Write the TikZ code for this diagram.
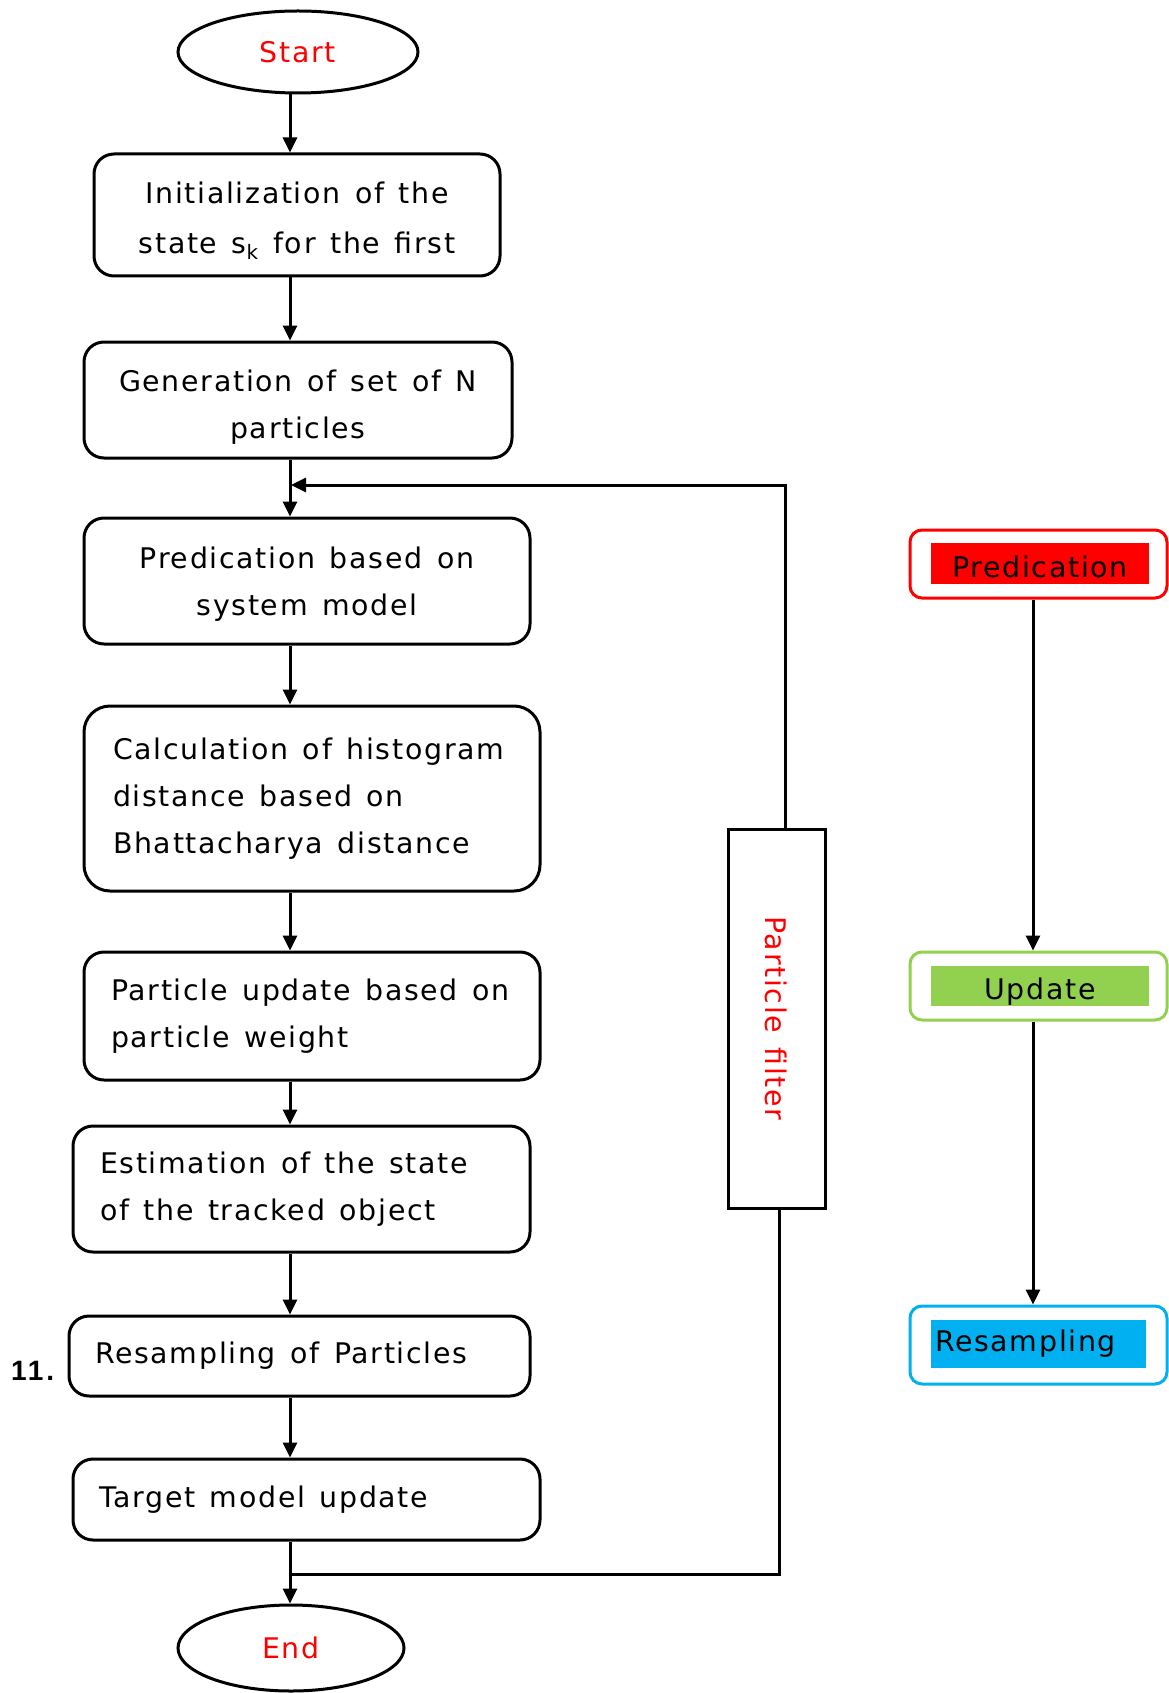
\documentclass[tikz,border=0pt]{standalone}
\usepackage{fontspec}
\usetikzlibrary{shapes.geometric,arrows.meta}
\newfontfamily\boxfont{DejaVu Sans}[LetterSpace=6]
\newfontfamily\numfont{Liberation Sans}[LetterSpace=10]
\newcommand\wsp{\spaceskip=14.5pt plus 2pt minus 1pt\relax}
\newcommand\bxfnt{\boxfont\fontsize{28.4}{47}\selectfont\wsp}
\newcommand\nmfnt{\numfont\bfseries\fontsize{28}{32}\selectfont}
\definecolor{pfred}{HTML}{FF0000}
\definecolor{pfgreen}{HTML}{92D050}
\definecolor{pfblue}{HTML}{00B0F0}
\tikzset{
  flowbox/.style={draw, line width=3pt, rounded corners=20pt, inner ysep=0pt, font=\bxfnt},
  lbox/.style={flowbox, align=left},
  cbox/.style={flowbox, align=center, inner xsep=0pt},
  term/.style={ellipse, draw, line width=3pt, inner sep=0pt, text=pfred, font=\bxfnt},
  pfbox/.style={draw, line width=3pt, inner sep=0pt, text=pfred, font=\bxfnt},
  outerbox/.style={draw, line width=3pt, rounded corners=12pt, inner sep=0pt, minimum width=257pt},
  innerlab/.style={inner sep=0pt, font=\bxfnt, text=black, minimum width=218pt},
  arr/.style={line width=3pt, -{Triangle[length=15pt,width=14pt]}},
  plain/.style={line width=3pt}
}
\begin{document}
\begin{tikzpicture}[x=1pt,y=-1pt]
\useasboundingbox (0,0) rectangle (1168,1693);
% main column
\node[term, minimum width=240pt, minimum height=82pt] (start) at (298,52) {Start};
\node[cbox, minimum width=406pt, minimum height=122pt] (b1) at (297,215) {\rule{0pt}{33pt}Initialization of the\\[3pt]state s\textsubscript{k} for the first};
\node[cbox, minimum width=428pt, minimum height=116pt] (b2) at (298,400) {\rule{0pt}{35.5pt}Generation of set of N\\particles};
\node[cbox, minimum width=446pt, minimum height=126pt] (b3) at (307,581) {\rule{0pt}{27pt}Predication based on\\system model};
\node[lbox, rounded corners=26pt, inner xsep=29pt, text width=398pt, minimum width=456pt, minimum height=185pt] (b4) at (312,798.5) {\wsp Calculation of histogram\\distance based on\\Bhattacharya distance};
\node[lbox, inner xsep=27pt, text width=402pt, minimum width=456pt, minimum height=128pt] (b5) at (312,1016) {\wsp Particle update based on\\particle weight};
\node[lbox, inner xsep=27pt, text width=403pt, minimum width=457pt, minimum height=126pt] (b6) at (301.5,1189) {\wsp Estimation of the state\\of the tracked object};
\node[lbox, inner xsep=26pt, text width=409pt, minimum width=461pt, minimum height=80pt] (b7) at (299.5,1356) {\wsp Resampling of Particles};
\node[lbox, inner xsep=26pt, text width=415pt, minimum width=467pt, minimum height=81pt] (b8) at (306.5,1499.5) {\wsp Target model update};
\node[term, minimum width=226pt, minimum height=86pt] (end) at (291,1648) {End};
\node[font=\nmfnt, inner sep=0pt, anchor=base west] (num) at (11,1380) {11.};
% particle filter box
\node[pfbox, minimum width=97pt, minimum height=379pt] (pf) at (776.5,1018.5) {\rotatebox{-90}{Particle filter}};
% right column
\node[outerbox, draw=pfred, minimum height=68pt] (predo) at (1038.5,564) {};
\node[innerlab, fill=pfred, minimum height=41pt, text height=30pt, text depth=3pt] (predl) at (1040,563.5) {Predication};
\node[outerbox, draw=pfgreen, minimum height=68pt] (updo) at (1038.5,986) {};
\node[innerlab, fill=pfgreen, minimum height=40pt, text height=30pt, text depth=3pt] (updl) at (1040,986) {Update};
\node[outerbox, draw=pfblue, minimum height=78pt] (reso) at (1038.5,1345) {};
\node[innerlab, fill=pfblue, minimum width=215pt, minimum height=48pt, text width=207pt, inner xsep=4pt, align=left] (resl) at (1038.5,1344) {Resampling};
% coordinates
\coordinate (mx) at (290,0);
\coordinate (rx) at (1033,0);
\coordinate (fb) at (291,485);
\coordinate (jn) at (291,1574);
% connectors
\draw[arr] (start.south -| mx) -- (b1.north -| mx);
\draw[arr] (b1.south -| mx) -- (b2.north -| mx);
\draw[arr] (b2.south -| mx) -- (b3.north -| mx);
\draw[arr] (b3.south -| mx) -- (b4.north -| mx);
\draw[arr] (b4.south -| mx) -- (b5.north -| mx);
\draw[arr] (b5.south -| mx) -- (b6.north -| mx);
\draw[arr] (b6.south -| mx) -- (b7.north -| mx);
\draw[arr] (b7.south -| mx) -- (b8.north -| mx);
\draw[arr] (b8.south -| mx) -- (end.north -| mx);
\draw[arr] ([xshift=8.5pt]pf.north) |- (fb);
\draw[plain] ([xshift=2.5pt]pf.south) |- (jn);
\draw[arr] (predo.south -| rx) -- (updo.north -| rx);
\draw[arr] (updo.south -| rx) -- (reso.north -| rx);
\end{tikzpicture}
\end{document}
